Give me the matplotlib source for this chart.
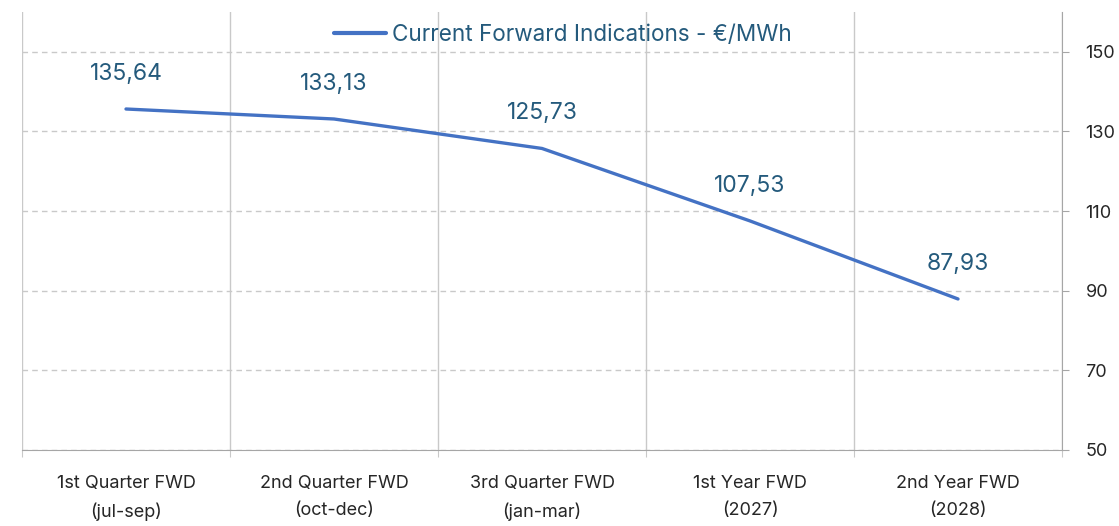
import matplotlib
matplotlib.use("Agg")
import matplotlib.pyplot as plt
import numpy as np

categories = ["1st Quarter FWD\n(jul-sep)", "2nd Quarter FWD\n(oct-dec)", "3rd Quarter FWD\n(jan-mar)",
              "1st Year FWD\n(2027)", "2nd Year FWD\n(2028)"]
values = [135.64, 133.13, 125.73, 107.53, 87.93]
value_labels = ["135,64", "133,13", "125,73", "107,53", "87,93"]
yticks = [50, 70, 90, 110, 130, 150]
series_name = "Current Forward Indications - €/MWh"

plt.rcParams['font.family'] = ['Inter', 'DejaVu Sans']

W, H = 1119, 526
fig = plt.figure(figsize=(W/100, H/100), dpi=100)
ax = fig.add_axes([22/W, 1-450/H, (1062-22)/W, (450-12)/H])

x = np.arange(len(values)) + 0.5
line_color = '#4472C4'
text_color = '#245A7C'
grid_color = '#C9C9C9'

ax.plot(x, values, color=line_color, lw=2.4, solid_capstyle='round', label=series_name, zorder=3)
for xi, v, lab in zip(x, values, value_labels):
    ax.annotate(lab, (xi, v), xytext=(0, 25.5), textcoords='offset points',
                ha='center', va='center', fontsize=16.5, color=text_color)

ax.set_xlim(0, len(values))
ax.set_ylim(50, 160)

ax.set_xticks(np.arange(len(values) + 1))
ax.set_xticklabels([])
ax.set_xticks(x, minor=True)
ax.set_xticklabels(categories, minor=True, fontsize=13, color='#262626', linespacing=1.75)
ax.tick_params(axis='x', which='major', length=5, color=grid_color, direction='out')
ax.tick_params(axis='x', which='minor', length=0, pad=18)

ax.yaxis.tick_right()
ax.set_yticks(yticks)
ax.set_yticklabels([str(t) for t in yticks], fontsize=13, color='#262626')
ax.tick_params(axis='y', length=5, color='#A6A6A6', pad=12, direction='out')

ax.grid(axis='x', which='major', color=grid_color, lw=1, linestyle='-')
ax.grid(axis='y', color=grid_color, lw=1, linestyle=(0, (4, 3)))
ax.set_axisbelow(True)

for s in ['top', 'left']:
    ax.spines[s].set_visible(False)
ax.spines['right'].set_color('#A6A6A6')
ax.spines['bottom'].set_color('#A6A6A6')

leg = fig.legend(loc='center', bbox_to_anchor=(563/W, 1-35/H), frameon=False,
                 fontsize=16.2, handlelength=2.3, handletextpad=0.25, borderpad=0)
for t in leg.get_texts():
    t.set_color(text_color)
for l in leg.get_lines():
    l.set_linewidth(3)

fig.savefig("out.png", dpi=100)
